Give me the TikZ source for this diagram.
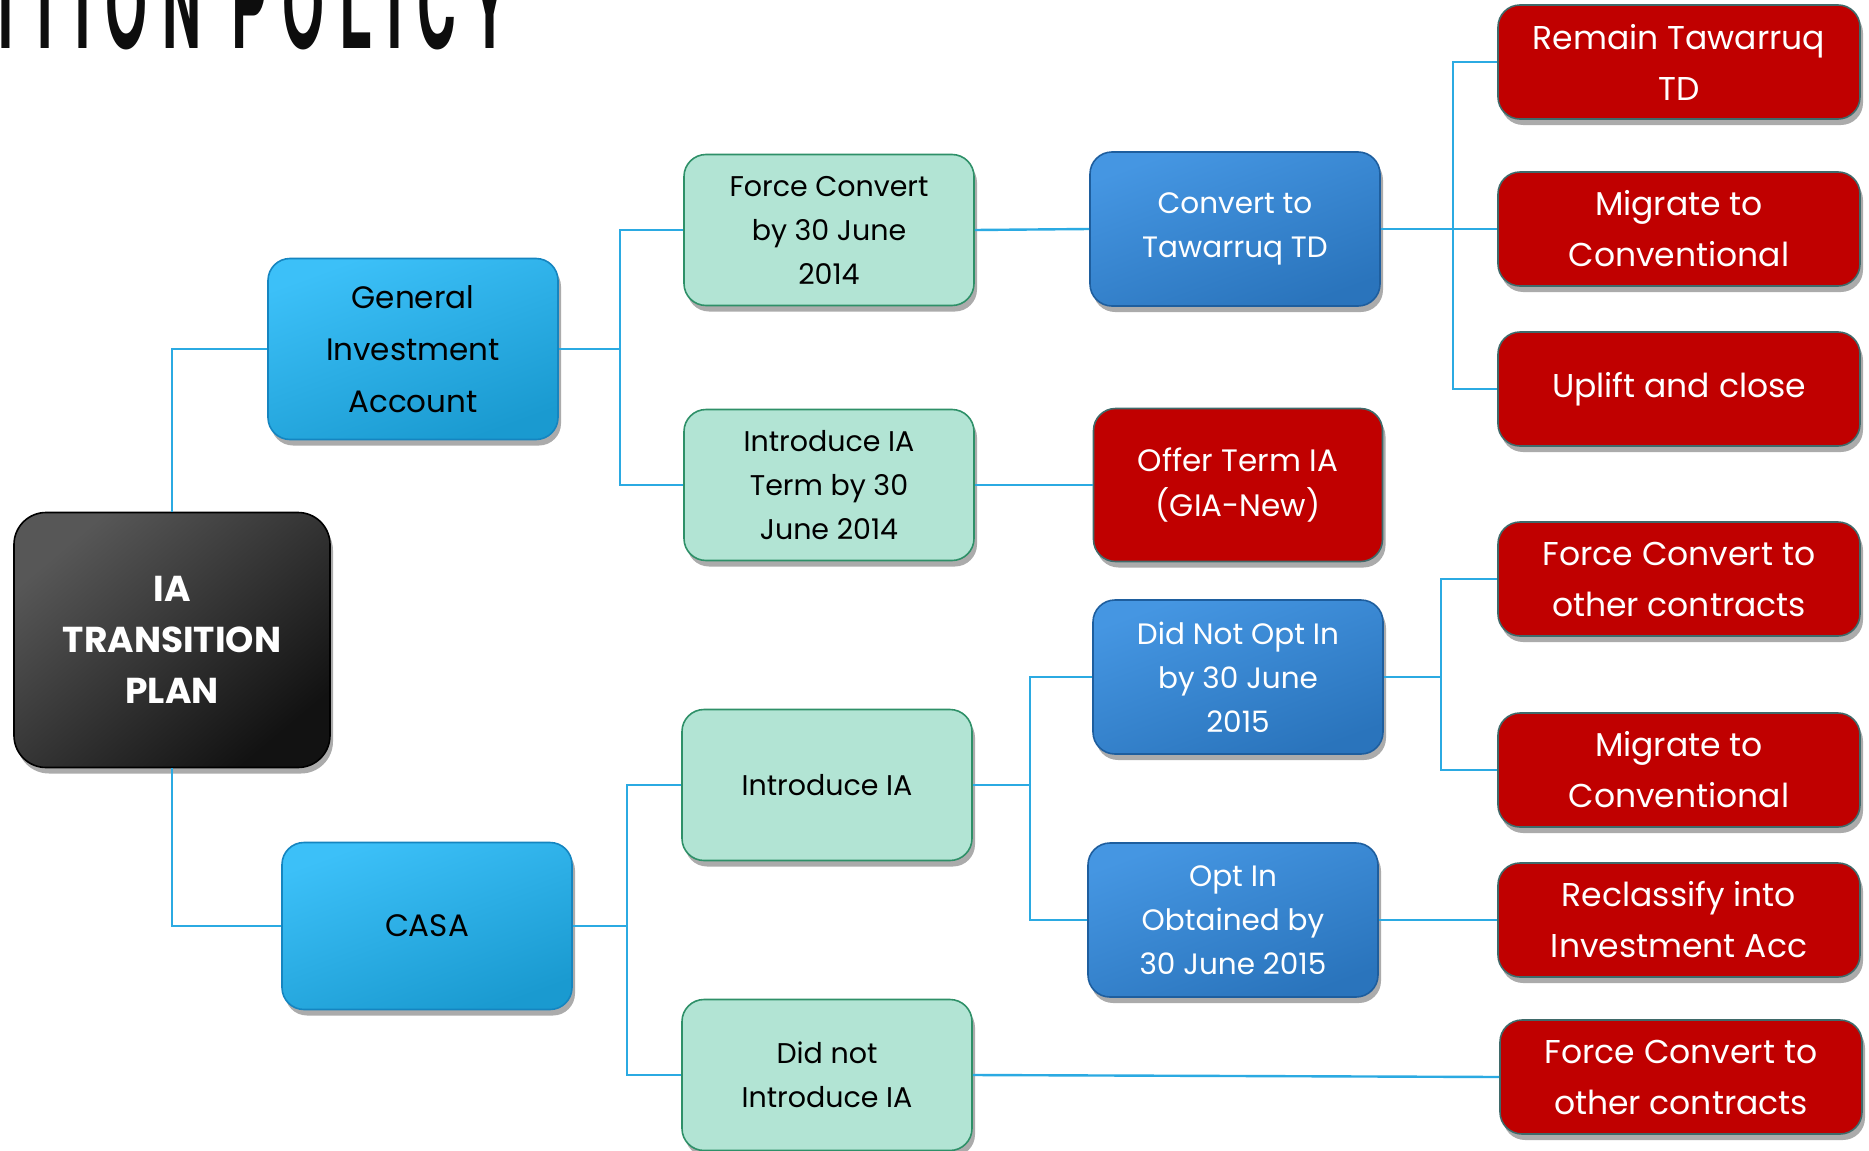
\documentclass[tikz,border=0pt]{standalone}
\usepackage{fontspec}
\setmainfont{Poppins}
\newfontfamily\headfont[LetterSpace=28]{TeX Gyre Heros}
\usetikzlibrary{shadows}

\definecolor{wire}{HTML}{2BAAE2}
\definecolor{skyA}{HTML}{3CC0F8}
\definecolor{skyB}{HTML}{1A9AD0}
\definecolor{skyEdge}{HTML}{1585C0}
\definecolor{mint}{HTML}{B2E4D4}
\definecolor{mintEdge}{HTML}{2E9068}
\definecolor{royA}{HTML}{4596E2}
\definecolor{royB}{HTML}{2A74BC}
\definecolor{royEdge}{HTML}{1E5E9E}
\definecolor{crimson}{HTML}{C00000}
\definecolor{crimsonEdge}{HTML}{3F6A6A}
\definecolor{coalA}{HTML}{575757}
\definecolor{coalB}{HTML}{121212}

\tikzset{
  x=1pt, y=-1pt,
  box/.style={rounded corners=22pt, inner sep=0pt, align=center, line width=1.6pt,
    drop shadow={shadow xshift=3pt, shadow yshift=-6pt, opacity=0.33, fill=black}},
  rootbox/.style={box, rounded corners=32pt, draw=black, minimum width=316pt, minimum height=255pt,
    top color=coalA, bottom color=coalB, shading angle=40, text=white,
    font=\fontsize{36}{51}\selectfont\bfseries},
  skybox/.style={box, draw=skyEdge, top color=skyA, bottom color=skyB, shading angle=20,
    minimum width=290pt, text=black, font=\fontsize{31}{52}\selectfont},
  mintbox/.style={box, draw=mintEdge, fill=mint, minimum width=290pt, minimum height=151pt,
    text=black, font=\fontsize{28.5}{44}\selectfont},
  roybox/.style={box, draw=royEdge, top color=royA, bottom color=royB, shading angle=20,
    minimum width=290pt, minimum height=154pt, text=white, font=\fontsize{29.5}{44}\selectfont},
  redbox/.style={box, draw=crimsonEdge, fill=crimson, minimum width=362pt, minimum height=114pt,
    text=white, font=\fontsize{33}{51}\selectfont},
  link/.style={draw=wire, line width=2.4pt},
}

\begin{document}
\begin{tikzpicture}
\clip (0,0) rectangle (1869,1151);
\fill[white] (0,0) rectangle (1869,1151);

% heading, running off the top edge
\node[anchor=base west, inner sep=0pt, xscale=0.43, text=black!95]
  (heading) at (-2,48) {\headfont\fontsize{125}{125}\selectfont\bfseries ITION POLICY};

% root
\node[rootbox] (root) at (172,640) {IA\\TRANSITION\\PLAN};

% first level
\node[skybox, minimum height=181pt] (gia) at (413,349) {General\\Investment\\Account};
\node[skybox, minimum height=167pt] (casa) at (427,926) {CASA};

% second level
\node[mintbox] (fc) at (829,230) {Force Convert\\by 30 June\\2014};
\node[mintbox] (iat) at (829,485) {Introduce IA\\Term by 30\\June 2014};
\node[mintbox] (intro) at (827,785) {Introduce IA};
\node[mintbox] (noint) at (827,1075) {Did not\\Introduce IA};

% third level
\node[roybox] (conv) at (1235,229) {Convert to\\Tawarruq TD};
\node[redbox, minimum width=289pt, minimum height=153pt, font=\fontsize{31}{45}\selectfont]
  (offer) at (1238,485) {Offer Term IA\\(GIA-New)};
\node[roybox] (noopt) at (1238,677) {Did Not Opt In\\by 30 June\\2015};
\node[roybox] (opt) at (1233,920) {Opt In\\Obtained by\\30 June 2015};

% outcomes
\node[redbox] (r1) at (1679,62) {Remain Tawarruq\\TD};
\node[redbox] (r2) at (1679,229) {Migrate to\\Conventional};
\node[redbox] (r3) at (1679,389) {Uplift and close};
\node[redbox] (r4) at (1679,579) {Force Convert to\\other contracts};
\node[redbox] (r5) at (1679,770) {Migrate to\\Conventional};
\node[redbox] (r6) at (1679,920) {Reclassify into\\Investment Acc};
\node[redbox] (r7) at (1681,1077) {Force Convert to\\other contracts};

% branch columns
\coordinate (c1) at (620,0);
\coordinate (c2) at (627,0);
\coordinate (c3) at (1453,0);
\coordinate (c4) at (1030,0);
\coordinate (c5) at (1441,0);

\draw[link] (root.north) |- (gia.west);
\draw[link] (root.south) |- (casa.west);

\draw[link] (gia.east) -- (gia.east -| c1) |- (fc.west);
\draw[link] (gia.east -| c1) |- (iat.west);

\draw[link] (casa.east) -- (casa.east -| c2) |- (intro.west);
\draw[link] (casa.east -| c2) |- (noint.west);

\draw[link] (fc.east) -- (conv.west);
\draw[link] (iat.east) -- (offer.west);

\draw[link] (conv.east) -- (conv.east -| c3) |- (r1.west);
\draw[link] (conv.east -| c3) |- (r2.west);
\draw[link] (conv.east -| c3) |- (r3.west);

\draw[link] (intro.east) -- (intro.east -| c4) |- (noopt.west);
\draw[link] (intro.east -| c4) |- (opt.west);

\draw[link] (noopt.east) -- (noopt.east -| c5) |- (r4.west);
\draw[link] (noopt.east -| c5) |- (r5.west);

\draw[link] (opt.east) -- (r6.west);
\draw[link] (noint.east) -- (r7.west);
\end{tikzpicture}
\end{document}
